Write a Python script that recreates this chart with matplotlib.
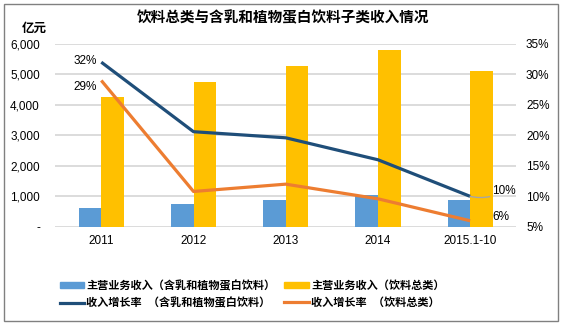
import numpy as np
import matplotlib
matplotlib.use("Agg")
import matplotlib.pyplot as plt
from matplotlib.patches import Rectangle
from matplotlib.lines import Line2D
from matplotlib.ticker import FuncFormatter

plt.rcParams["font.family"] = ["Liberation Sans", "Noto Sans CJK SC", "DejaVu Sans"]

# revenue (100 million yuan) and growth rate (%)
years = ["2011", "2012", "2013", "2014", "2015.1-10"]
rev_protein = [620, 740, 880, 1035, 895]
rev_total = [4250, 4740, 5280, 5800, 5125]
growth_protein = [32, 20.6, 19.6, 16, 10]
growth_total = [29, 10.8, 12, 9.6, 6]

c_blue = "#5B9BD5"
c_yellow = "#FFC000"
c_navy = "#1F4E79"
c_orange = "#ED7D31"

fig = plt.figure(figsize=(5.63, 3.25), dpi=100)
ax = fig.add_axes([0.098, 0.302, 0.819, 0.563])
ax2 = ax.twinx()

x = np.arange(len(years))
w = 0.245
ax.bar(x - w / 2, rev_protein, w, color=c_blue, zorder=2)
ax.bar(x + w / 2, rev_total, w, color=c_yellow, zorder=2)

ax2.plot(x, growth_protein, color=c_navy, lw=2.3, solid_capstyle="butt")
ax2.plot(x, growth_total, color=c_orange, lw=2.3, solid_capstyle="butt")

ax.set_xlim(-0.5, len(years) - 0.5)
ax.set_ylim(0, 6000)
ax.set_yticks(range(0, 6001, 1000))
ax.yaxis.set_major_formatter(FuncFormatter(lambda v, p: "-" if v == 0 else f"{int(v):,}"))
ax2.set_ylim(5, 35)
ax2.set_yticks(range(5, 36, 5))
ax2.yaxis.set_major_formatter(FuncFormatter(lambda v, p: f"{int(v)}%"))

ax.set_xticks(x)
ax.set_xticklabels(years)
ax.grid(axis="y", color="#D9D9D9", lw=1.3, zorder=0)
ax.set_axisbelow(True)
for a in (ax, ax2):
    for s in a.spines.values():
        s.set_visible(False)
ax.tick_params(axis="both", length=0, labelsize=8.5)
ax.tick_params(axis="y", pad=11)
ax.tick_params(axis="x", pad=6)
ax2.tick_params(axis="y", length=0, labelsize=8.5, pad=7)

# growth labels
ax2.annotate(f"{growth_protein[0]:.0f}%", (x[0], growth_protein[0]), xytext=(-3, 1),
             textcoords="offset points", ha="right", va="center", fontsize=8.5)
ax2.annotate(f"{growth_total[0]:.0f}%", (x[0], growth_total[0]), xytext=(-3, -5),
             textcoords="offset points", ha="right", va="center", fontsize=8.5)
ax2.annotate(f"{growth_protein[-1]:.0f}%", (x[-1], growth_protein[-1]), xytext=(16, 4),
             textcoords="offset points", ha="left", va="center", fontsize=8.5,
             arrowprops=dict(arrowstyle="-", color="#A6A6A6", lw=1,
                             connectionstyle="arc3,rad=-0.2", shrinkA=0, shrinkB=0))
ax2.annotate(f"{growth_total[-1]:.0f}%", (x[-1], growth_total[-1]), xytext=(16, 3),
             textcoords="offset points", ha="left", va="center", fontsize=8.5)

fig.text(0.503, 0.945, "饮料总类与含乳和植物蛋白饮料子类收入情况", ha="center", va="center",
         fontsize=10.5, fontweight="bold")
fig.text(0.039, 0.912, "亿元", ha="left", va="center", fontsize=9, fontweight="bold")

# legend entries ordered so the two rows read bars first, then lines
handles = [
    Rectangle((0, 0), 1, 1, color=c_blue),
    Line2D([], [], color=c_navy, lw=2.3),
    Rectangle((0, 0), 1, 1, color=c_yellow),
    Line2D([], [], color=c_orange, lw=2.3),
]
labels = [
    "主营业务收入（含乳和植物蛋白饮料）",
    "收入增长率  （含乳和植物蛋白饮料）",
    "主营业务收入（饮料总类）",
    "收入增长率  （饮料总类）",
]
fig.legend(handles, labels, ncol=2, loc="center left", bbox_to_anchor=(0.088, 0.095),
           frameon=False, handlelength=2.2, handleheight=0.45,
           handletextpad=0.2, columnspacing=0.8, labelspacing=0.5,
           prop={"weight": "bold", "size": 8})

fig.patches.append(Rectangle((0.007, 0.012), 0.984, 0.976, transform=fig.transFigure,
                             fill=False, edgecolor="#808080", lw=1))

fig.savefig("out.png", dpi=100)
